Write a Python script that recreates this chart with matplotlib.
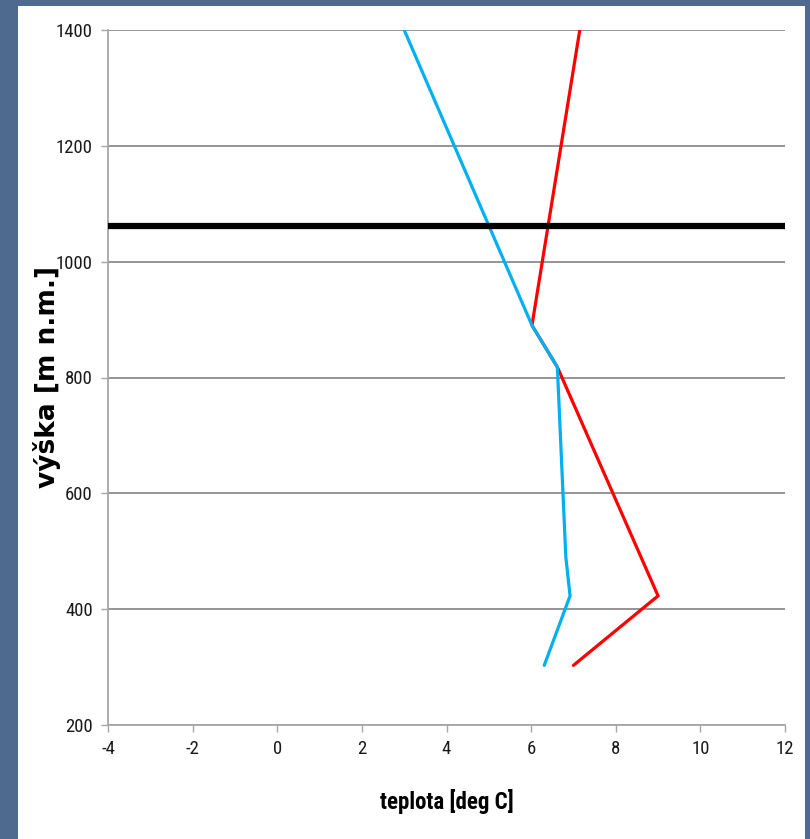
import matplotlib
matplotlib.use("Agg")
import matplotlib.pyplot as plt
from matplotlib.patches import Rectangle
import logging

logging.getLogger("matplotlib.font_manager").setLevel(logging.ERROR)

# teplotni profily (teplota v deg C, vyska v m n.m.)
vyska_cervena = [303, 423, 818, 890, 1400]
teplota_cervena = [7.0, 9.0, 6.62, 6.02, 7.15]

vyska_modra = [303, 423, 490, 818, 890, 1400]
teplota_modra = [6.31, 6.92, 6.82, 6.62, 6.02, 3.0]

inverze_vyska = 1062

x_ticks = [-4, -2, 0, 2, 4, 6, 8, 10, 12]
y_ticks = [200, 400, 600, 800, 1000, 1200, 1400]

NARROW = ["Roboto Condensed", "Liberation Sans Narrow", "Roboto", "DejaVu Sans"]

plt.rcParams["axes.unicode_minus"] = False

fig = plt.figure(figsize=(8.1, 8.39), dpi=100)
fig.patch.set_facecolor("#4f6a8f")
fig.patches.append(Rectangle((18 / 810, 0), (805 - 18) / 810, 1 - 6 / 839,
                             transform=fig.transFigure, facecolor="white",
                             edgecolor="none", zorder=-1))

ax = fig.add_axes([108 / 810, 1 - 725 / 839, (785 - 108) / 810, (725 - 30) / 839])
ax.set_facecolor("white")

ax.plot(teplota_cervena, vyska_cervena, color="#ff0000", linewidth=2.3,
        solid_capstyle="round", solid_joinstyle="miter", zorder=3)
ax.plot(teplota_modra, vyska_modra, color="#00b0f0", linewidth=2.3,
        solid_capstyle="round", solid_joinstyle="miter", zorder=4)
ax.axhline(inverze_vyska, color="black", linewidth=4.5, zorder=5)

ax.set_xlim(-4, 12)
ax.set_ylim(200, 1400)
ax.set_xticks(x_ticks)
ax.set_yticks(y_ticks)
ax.grid(axis="y", color="#8c8c8c", linewidth=1.3)
ax.set_axisbelow(True)

for s in ["top", "right"]:
    ax.spines[s].set_visible(False)
for s in ["left", "bottom"]:
    ax.spines[s].set_color("#a6a6a6")
    ax.spines[s].set_linewidth(1.3)

ax.tick_params(axis="both", direction="out", color="#a6a6a6", width=1.0,
               length=5, pad=6)
for lab in ax.get_xticklabels() + ax.get_yticklabels():
    lab.set_family(NARROW)
    lab.set_fontsize(13.5)
    lab.set_color("#1a1a1a")

ax.set_xlabel("teplota [deg C]", family=NARROW, fontsize=16.5, fontweight="bold",
              labelpad=22)
ax.set_ylabel("výška [m n.m.]", family=["DejaVu Sans"], fontsize=19,
              fontweight="bold", va="center")
ax.yaxis.set_label_coords(-0.09, 0.5)

fig.savefig("out.png", dpi=100, facecolor=fig.get_facecolor())
